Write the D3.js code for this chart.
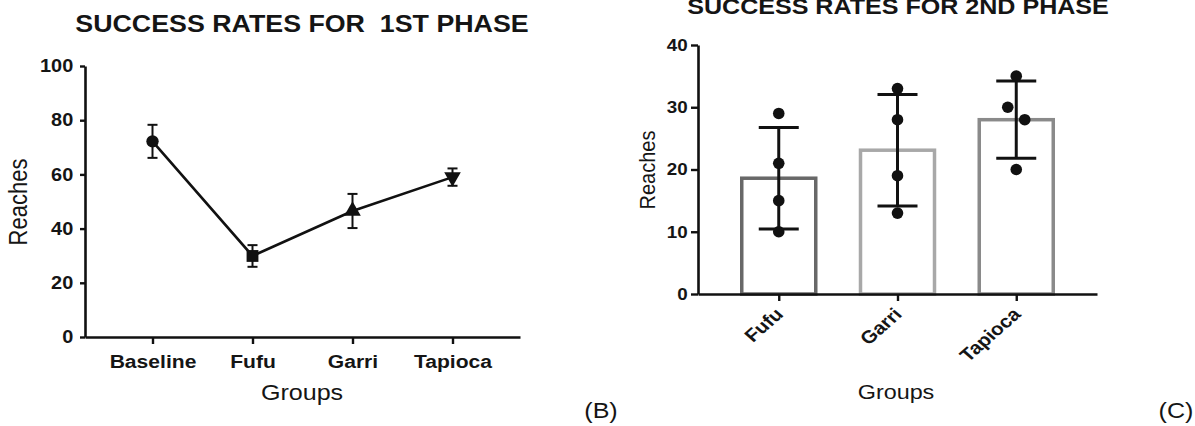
<!DOCTYPE html>
<html>
<head>
<meta charset="utf-8">
<script src="https://cdn.jsdelivr.net/npm/d3@7"></script>
<style>
  body { margin: 0; background: #fff; }
  svg { display: block; }
  text { font-family: "Liberation Sans", Arial, sans-serif; fill: #151515; }
</style>
</head>
<body>
<div id="container"></div>
<script>
// phase 1 (line chart, mean +/- error)
var phase1Groups = ['Baseline', 'Fufu', 'Garri', 'Tapioca']
var phase1Means = [72.2, 29.9, 46.5, 59.0]
var phase1Errors = [6.1, 4.0, 6.3, 3.2]
var phase1Ticks = [0, 20, 40, 60, 80, 100]

// phase 2 (bars = mean, whiskers = SD, dots = individual values)
var phase2Groups = ['Fufu', 'Garri', 'Tapioca']
var phase2Points = [[29, 21, 15, 10], [33, 28, 19, 13], [35, 30, 28, 20]]
var phase2Means = [18.6, 23.1, 28.0]
var phase2SD = [8.15, 8.95, 6.2]
var phase2Ticks = [0, 10, 20, 30, 40]

var SX = 1.14 // the source picture is stretched sideways a little
var markerShapes = [d3.symbolCircle, d3.symbolSquare, d3.symbolTriangle, d3.symbolTriangle]
var barColors = ['#686868', '#a8a8a8', '#8a8a8a']

var svg = d3.select('#container').append('svg')
  .attr('width', 1195).attr('height', 426)
svg.append('rect').attr('width', 1195).attr('height', 426).attr('fill', '#fff')

function label(txt, x, y, size, weight, rot) {
  return svg.append('text')
    .attr('transform', 'translate(' + x + ',' + y + ') scale(' + SX + ',1)' + (rot ? ' rotate(' + rot + ')' : ''))
    .attr('text-anchor', 'middle')
    .style('font-size', size + 'px')
    .style('font-weight', weight)
    .text(txt)
}

function styleAxis(g, fontSize) {
  g.select('.domain').attr('stroke', '#111').attr('stroke-width', 2.6)
  g.selectAll('.tick line').attr('stroke', '#111').attr('stroke-width', 2.4)
  g.selectAll('.tick text')
    .attr('fill', '#151515')
    .style('font-family', '"Liberation Sans", Arial, sans-serif')
    .style('font-size', fontSize + 'px')
    .style('font-weight', 'bold')
}

// ---------- chart B ----------
var y1 = d3.scaleLinear().domain([0, 100]).range([337, 66])
var x1 = d3.scalePoint().domain(phase1Groups).range([85, 520]).padding(0.675)

label('SUCCESS RATES FOR  1ST PHASE', 302, 32, 23.5, 'bold').style('white-space', 'pre')

var line1 = d3.line()
  .x(function (d, i) { return x1(phase1Groups[i]) })
  .y(function (d) { return y1(d) })

svg.append('path')
  .datum(phase1Means)
  .attr('d', line1)
  .attr('fill', 'none')
  .attr('stroke', '#111')
  .attr('stroke-width', 2.6)

var err1 = svg.append('g').attr('stroke', '#111').attr('stroke-width', 2)
phase1Means.forEach(function (m, i) {
  var cx = x1(phase1Groups[i])
  var lo = y1(m - phase1Errors[i]), hi = y1(m + phase1Errors[i])
  err1.append('line').attr('x1', cx).attr('x2', cx).attr('y1', lo).attr('y2', hi)
  err1.append('line').attr('x1', cx - 5).attr('x2', cx + 5).attr('y1', lo).attr('y2', lo)
  err1.append('line').attr('x1', cx - 5).attr('x2', cx + 5).attr('y1', hi).attr('y2', hi)
})

svg.append('g').selectAll('path')
  .data(phase1Means)
  .enter()
  .append('path')
  .attr('d', function (d, i) {
    return d3.symbol().type(markerShapes[i]).size(i === 1 ? 140 : 120)()
  })
  .attr('transform', function (d, i) {
    return 'translate(' + x1(phase1Groups[i]) + ',' + y1(d) + ')' + (i === 3 ? ' rotate(180)' : '')
  })
  .attr('fill', '#111')

var yAxis1 = svg.append('g')
  .attr('transform', 'translate(85,0)')
  .call(d3.axisLeft(y1).tickValues(phase1Ticks).tickSize(5).tickSizeOuter(0))
styleAxis(yAxis1, 17.5)
yAxis1.selectAll('.tick text').attr('x', -10.3).attr('transform', 'scale(' + SX + ',1)')

var xAxis1 = svg.append('g')
  .attr('transform', 'translate(0,337)')
  .call(d3.axisBottom(x1).tickSize(7).tickSizeOuter(0))
styleAxis(xAxis1, 18.5)
xAxis1.selectAll('.tick text').attr('y', 31).attr('dy', null).attr('transform', 'scale(' + SX + ',1)')

label('Groups', 302, 400, 22, 'normal')
label('Reaches', 26.5, 202, 22, 'normal', -90)
label('(B)', 601, 418, 22, 'normal')

// ---------- chart C ----------
var y2 = d3.scaleLinear().domain([0, 40]).range([294, 45])
var x2 = d3.scalePoint().domain(phase2Groups).range([698, 1097]).padding(0.68)
var barW = 74

label('SUCCESS RATES FOR 2ND PHASE', 898, 13.5, 22, 'bold')

svg.append('g').selectAll('rect')
  .data(phase2Means)
  .enter()
  .append('rect')
  .attr('x', function (d, i) { return x2(phase2Groups[i]) - barW / 2 })
  .attr('y', function (d) { return y2(d) })
  .attr('width', barW)
  .attr('height', function (d) { return y2(0) - y2(d) })
  .attr('fill', '#fff')
  .attr('stroke', function (d, i) { return barColors[i] })
  .attr('stroke-width', 3.5)

var err2 = svg.append('g').attr('stroke', '#111').attr('stroke-width', 3)
phase2Means.forEach(function (m, i) {
  var cx = x2(phase2Groups[i])
  var lo = y2(m - phase2SD[i]), hi = y2(m + phase2SD[i])
  err2.append('line').attr('x1', cx).attr('x2', cx).attr('y1', lo).attr('y2', hi)
  err2.append('line').attr('x1', cx - 20).attr('x2', cx + 20).attr('y1', lo).attr('y2', lo)
  err2.append('line').attr('x1', cx - 20).attr('x2', cx + 20).attr('y1', hi).attr('y2', hi)
})

// dots, nudged sideways when two values of a group sit close together
var dots = []
phase2Points.forEach(function (pts, i) {
  pts.forEach(function (v) {
    var shift = 0
    pts.forEach(function (w) {
      if (w !== v && Math.abs(w - v) < 3) shift = v > w ? -8.5 : 8.5
    })
    dots.push({ group: phase2Groups[i], value: v, shift: shift })
  })
})

svg.append('g').selectAll('circle')
  .data(dots)
  .enter()
  .append('circle')
  .attr('cx', function (d) { return x2(d.group) + d.shift })
  .attr('cy', function (d) { return y2(d.value) })
  .attr('r', 5.8)
  .attr('fill', '#111')

var yAxis2 = svg.append('g')
  .attr('transform', 'translate(698,0)')
  .call(d3.axisLeft(y2).tickValues(phase2Ticks).tickSize(7).tickSizeOuter(0))
styleAxis(yAxis2, 16.5)
yAxis2.selectAll('.tick text').attr('x', -9.1).attr('transform', 'scale(' + SX + ',1)')

var xAxis2 = svg.append('g')
  .attr('transform', 'translate(0,294)')
  .call(d3.axisBottom(x2).tickSize(7).tickSizeOuter(0))
styleAxis(xAxis2, 18)
xAxis2.selectAll('.tick text')
  .attr('x', null).attr('y', null).attr('dy', null)
  .attr('text-anchor', 'end')
  .attr('transform', 'scale(' + SX + ',1) translate(4.5,21.5) rotate(-45)')

label('Groups', 896, 398.5, 20.5, 'normal')
label('Reaches', 655, 170, 20, 'normal', -90)
label('(C)', 1176, 418, 22, 'normal')
</script>
</body>
</html>
